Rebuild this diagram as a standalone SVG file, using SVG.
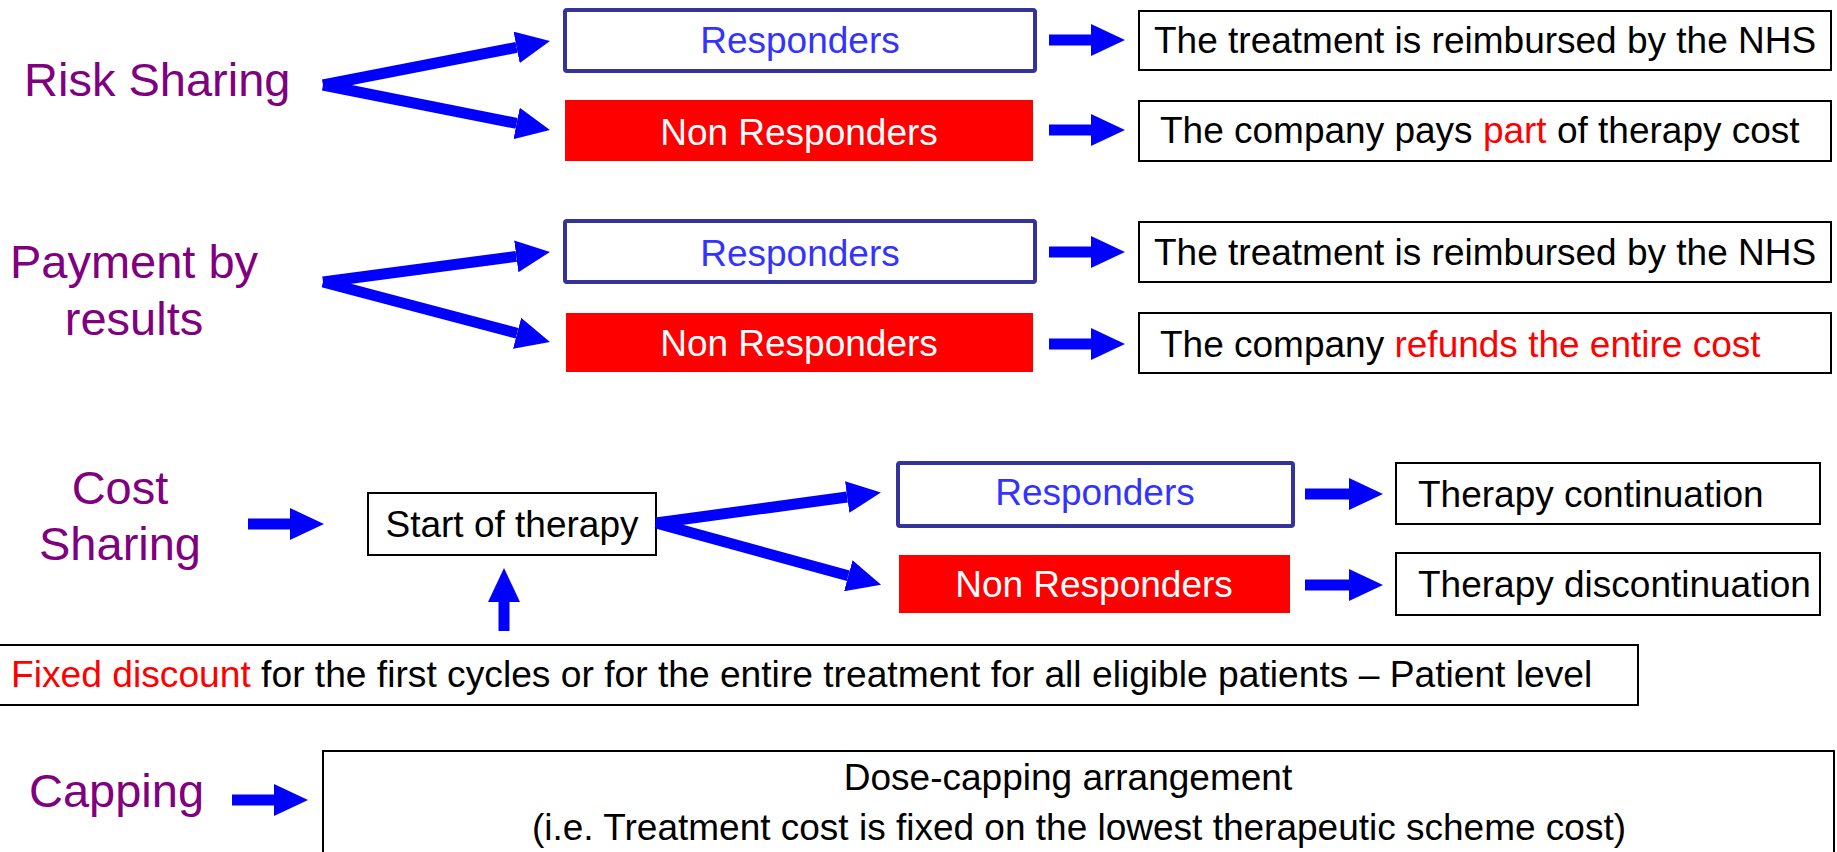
<svg xmlns="http://www.w3.org/2000/svg" width="1837" height="852" viewBox="0 0 1837 852">
<defs>
<marker id="ah" markerUnits="userSpaceOnUse" markerWidth="34" markerHeight="32" refX="0" refY="16" orient="auto" viewBox="0 0 34 32">
<path d="M0,0 L34,16 L0,32 Z" fill="#0000FF"/>
</marker>
<style>
text{font-family:"Liberation Sans",Arial,sans-serif;}
.lbl{font-size:47px;fill:#800080;}
.t{font-size:37px;fill:#000;}
.red{fill:#FF0000;}
.resp{fill:#fff;stroke:#333399;stroke-width:4;}
.resptxt{font-size:37px;fill:#3333FF;}
.non{fill:#FF0000;}
.nontxt{font-size:37px;fill:#fff;}
.box{fill:#fff;stroke:#000;stroke-width:2;}
.conn line{stroke:#0000FF;stroke-width:11;marker-end:url(#ah);}
</style>
</defs>
<rect width="1837" height="852" fill="#fff"/>

<g id="risk-sharing"><text class="lbl" x="24" y="96">Risk Sharing</text></g>
<g id="payment-by-results"><text class="lbl" x="134" y="278" text-anchor="middle">Payment by</text><text class="lbl" x="134" y="335" text-anchor="middle">results</text></g>
<g id="cost-sharing"><text class="lbl" x="120" y="504" text-anchor="middle">Cost</text><text class="lbl" x="120" y="560" text-anchor="middle">Sharing</text></g>
<g id="capping"><text class="lbl" x="29" y="807">Capping</text></g>

<g id="responders-1"><rect class="resp" x="565" y="10" width="470" height="61" rx="2"/><text class="resptxt" x="800" y="53" text-anchor="middle">Responders</text></g>
<g id="non-responders-1"><rect class="non" x="565" y="100" width="468" height="61"/><text class="nontxt" x="799" y="145" text-anchor="middle">Non Responders</text></g>
<g id="outcome-1"><rect class="box" x="1139" y="11" width="692" height="59"/><text class="t" x="1154" y="53">The treatment is reimbursed by the NHS</text></g>
<g id="outcome-2"><rect class="box" x="1139" y="101" width="692" height="60"/><text class="t" x="1160" y="143">The company pays <tspan class="red">part</tspan> of therapy cost</text></g>

<g id="responders-2"><rect class="resp" x="565" y="221" width="470" height="61" rx="2"/><text class="resptxt" x="800" y="266" text-anchor="middle">Responders</text></g>
<g id="non-responders-2"><rect class="non" x="566" y="313" width="467" height="59"/><text class="nontxt" x="799" y="356" text-anchor="middle">Non Responders</text></g>
<g id="outcome-3"><rect class="box" x="1139" y="222" width="692" height="60"/><text class="t" x="1154" y="265">The treatment is reimbursed by the NHS</text></g>
<g id="outcome-4"><rect class="box" x="1139" y="313" width="692" height="60"/><text class="t" x="1160" y="357">The company <tspan class="red">refunds the entire cost</tspan></text></g>

<g id="start-of-therapy"><rect class="box" x="368" y="493" width="288" height="62"/><text class="t" x="512" y="537" text-anchor="middle">Start of therapy</text></g>
<g id="responders-3"><rect class="resp" x="898" y="463" width="395" height="63" rx="2"/><text class="resptxt" x="1095" y="505" text-anchor="middle">Responders</text></g>
<g id="non-responders-3"><rect class="non" x="899" y="555" width="391" height="58"/><text class="nontxt" x="1094" y="597" text-anchor="middle">Non Responders</text></g>
<g id="therapy-continuation"><rect class="box" x="1396" y="463" width="424" height="61"/><text class="t" x="1418" y="507">Therapy continuation</text></g>
<g id="therapy-discontinuation"><rect class="box" x="1396" y="553" width="424" height="62"/><text class="t" x="1418" y="597">Therapy discontinuation</text></g>

<g id="fixed-discount"><rect class="box" x="-5" y="645" width="1643" height="60"/><text class="t" x="11" y="687" style="font-size:37.2px"><tspan class="red">Fixed discount</tspan> for the first cycles or for the entire treatment for all eligible patients – Patient level</text></g>

<g id="dose-capping"><rect class="box" x="323" y="751" width="1511" height="120"/><text class="t" x="1068" y="790" text-anchor="middle">Dose-capping arrangement</text><text class="t" x="1079" y="840" text-anchor="middle">(i.e. Treatment cost is fixed on the lowest therapeutic scheme cost)</text></g>

<g id="connectors" class="conn">
<line x1="323" y1="85" x2="516.6" y2="47.4"/>
<line x1="323" y1="85" x2="516.6" y2="123.4"/>
<line x1="1049" y1="40" x2="1091" y2="40"/>
<line x1="1049" y1="130" x2="1091" y2="130"/>
<line x1="323" y1="282" x2="516.3" y2="256.4"/>
<line x1="323" y1="282" x2="517.1" y2="333.3"/>
<line x1="1049" y1="252" x2="1091" y2="252"/>
<line x1="1049" y1="344" x2="1091" y2="344"/>
<line x1="248" y1="524" x2="290" y2="524"/>
<line x1="656" y1="523" x2="847.2" y2="497"/>
<line x1="656" y1="523" x2="848.3" y2="575.8"/>
<line x1="1305" y1="494" x2="1349" y2="494"/>
<line x1="1305" y1="585" x2="1349" y2="585"/>
<line x1="504" y1="631" x2="504" y2="602"/>
<line x1="232" y1="800" x2="274" y2="800"/>
</g>
</svg>
